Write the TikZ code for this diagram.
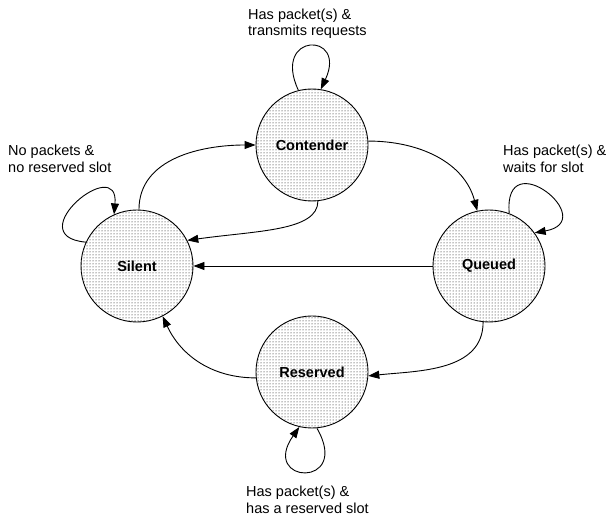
\documentclass[tikz,border=0pt]{standalone}
\usepackage{fontspec}
\setmainfont{Liberation Sans}
\usetikzlibrary{arrows.meta,patterns}
\tikzstyle{state} = [circle, draw=black, line width=0.9pt, minimum size=112pt, inner sep=0pt, pattern=dots, pattern color=black, font=\fontsize{14.5}{16.5}\selectfont\bfseries]
\tikzstyle{note} = [align=left, anchor=west, inner sep=0pt, font=\fontsize{14.5}{16.5}\selectfont]
\tikzstyle{arrow} = [line width=0.9pt, -{Triangle[length=11pt,width=8pt]}]

\begin{document}
\begin{tikzpicture}[x=1pt,y=1pt]
                \useasboundingbox (0,0) rectangle (608,519);
                % states
                \node [state] (contender) at (312,374) {Contender};
                \node [state] (silent) at (137,253) {Silent};
                \node [state] (queued) at (489,253) {Queued};
                \node [state] (reserved) at (312,147) {Reserved};
                % transitions
                \draw [arrow] (silent.88) to[out=90,in=180] (contender.180);
                \draw [arrow] (contender.-84) .. controls +(-90:30) and +(8:70) .. (silent.27);
                \draw [arrow] (contender.4) to[out=0,in=105] (queued.102);
                \draw [arrow] (queued) -- (silent);
                \draw [arrow] (queued.-96) to[out=-90,in=6] (reserved.-4);
                \draw [arrow] (reserved.186) to[out=180,in=-65] (silent.-63);
                % self loops
                \draw [arrow] (contender.104) .. controls +(115:64) and +(65:64) .. (contender.81);
                \draw [arrow] (silent.155) .. controls +(175:68) and +(85:62) .. (silent.114);
                \draw [arrow] (queued.69) .. controls +(95:72) and +(10:68) .. (queued.36);
                \draw [arrow] (reserved.-85) .. controls +(-60:70) and +(-125:70) .. (reserved.-103);
                % labels
                \node [note] (contenderloop) at (248,495) {Has packet(s) \&\\transmits requests};
                \node [note] (silentloop) at (8,360) {No packets \&\\no reserved slot};
                \node [note] (queuedloop) at (503,360) {Has packet(s) \&\\waits for slot};
                \node [note] (reservedloop) at (246,19) {Has packet(s) \&\\has a reserved slot};
            \end{tikzpicture}
\end{document}
